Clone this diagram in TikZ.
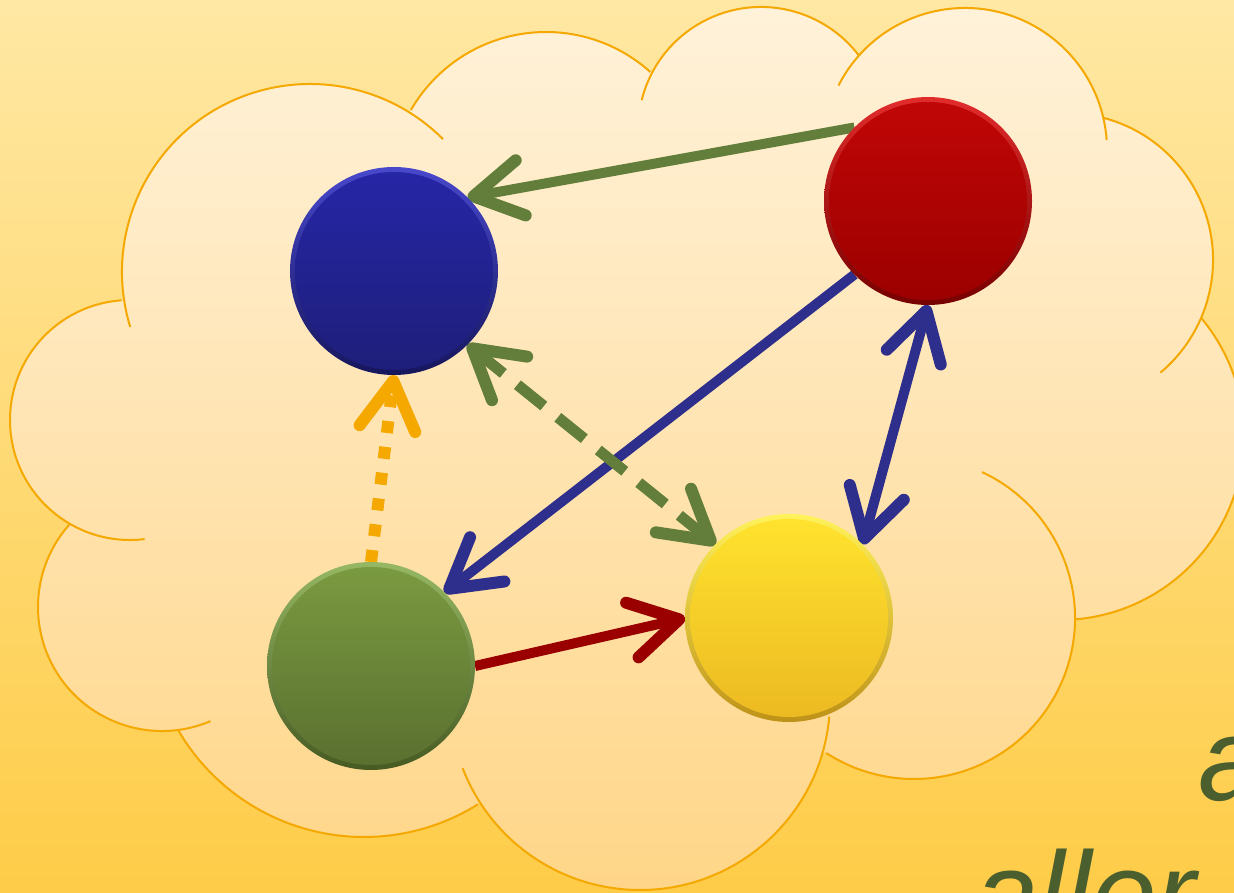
\documentclass[tikz,border=0pt]{standalone}
\usepackage{fontspec}
\newfontfamily\txtfont{Liberation Sans}
\usetikzlibrary{arrows.meta}
\definecolor{bgtop}{RGB}{255,232,164}
\definecolor{bgbot}{RGB}{254,204,72}
\definecolor{cloudtop}{RGB}{255,242,218}
\definecolor{cloudbot}{RGB}{255,214,136}
\definecolor{cloudline}{RGB}{245,168,0}
\definecolor{agreen}{RGB}{98,126,58}
\definecolor{ablue}{RGB}{46,46,140}
\definecolor{aorange}{RGB}{245,168,0}
\definecolor{ared}{RGB}{154,0,0}
\definecolor{txtcol}{RGB}{74,94,46}
% blue sphere
\definecolor{bluerimt}{RGB}{72,72,204}
\definecolor{bluerimb}{RGB}{22,22,92}
\definecolor{bluetop}{RGB}{38,38,166}
\definecolor{bluebot}{RGB}{30,30,122}
% red sphere
\definecolor{redrimt}{RGB}{226,44,44}
\definecolor{redrimb}{RGB}{118,0,0}
\definecolor{redtop}{RGB}{192,6,6}
\definecolor{redbot}{RGB}{156,0,0}
% green sphere
\definecolor{greenrimt}{RGB}{150,184,100}
\definecolor{greenrimb}{RGB}{70,90,34}
\definecolor{greentop}{RGB}{122,154,64}
\definecolor{greenbot}{RGB}{90,112,48}
% yellow sphere
\definecolor{yellowrimt}{RGB}{255,242,90}
\definecolor{yellowrimb}{RGB}{190,146,24}
\definecolor{yellowtop}{RGB}{255,226,46}
\definecolor{yellowbot}{RGB}{236,186,34}
\tikzset{barb/.tip={Straight Barb[length=48pt,width=56pt,line width=12pt,round]}}
\begin{document}
\begin{tikzpicture}[x=1pt,y=1pt,
  lobe/.style={draw=cloudline,line width=2pt},
  ball/.style={circle,minimum size=208pt,inner sep=0pt,outer sep=0pt},
  conn/.style={line width=10pt},
  txt/.style={anchor=base west,inner sep=0pt,text=txtcol,font=\txtfont\itshape\fontsize{118}{140}\selectfont}]
\useasboundingbox (0,0) rectangle (1234,892);
\clip (0,0) rectangle (1234,892);
% background
\shade[top color=bgtop,bottom color=bgbot] (0,0) rectangle (1234,892);
% cloud fill
\shade[top color=cloudtop,bottom color=cloudbot]
  (130,472) -- (162,285) -- (364,270) -- (640,192) -- (914,274) -- (1060,456)
  -- (1066,632) -- (965,742) -- (761,762) -- (546,704) -- (310,620) -- cycle
  (310,620) circle[radius=188]
  (546,704) circle[radius=156]
  (761,762) circle[radius=123]
  (965,742) circle[radius=142]
  (1066,632) circle[radius=147]
  (1060,456) circle[radius=184]
  (914,274) circle[radius=161]
  (640,192) circle[radius=190]
  (364,270) circle[radius=215]
  (162,285) circle[radius=124]
  (130,472) circle[radius=120];
% cloud outline
\draw[lobe] (310,620) ++(197:188) arc[start angle=197,end angle=45,radius=188];
\draw[lobe] (546,704) ++(150:156) arc[start angle=150,end angle=48,radius=156];
\draw[lobe] (761,762) ++(166:123) arc[start angle=166,end angle=37,radius=123];
\draw[lobe] (965,742) ++(153:142) arc[start angle=153,end angle=4,radius=142];
\draw[lobe] (1066,632) ++(75:147) arc[start angle=75,end angle=-50,radius=147];
\draw[lobe] (1060,456) ++(40:184) arc[start angle=40,end angle=-85,radius=184];
\draw[lobe] (914,274) ++(65:161) arc[start angle=65,end angle=-123,radius=161];
\draw[lobe] (640,192) ++(-5:190) arc[start angle=-5,end angle=-159,radius=190];
\draw[lobe] (364,270) ++(-58:215) arc[start angle=-58,end angle=-150,radius=215];
\draw[lobe] (162,285) ++(-67:124) arc[start angle=-67,end angle=-222,radius=124];
\draw[lobe] (130,472) ++(-83:120) arc[start angle=-83,end angle=-266,radius=120];
% node positions
\path (394,621) node[ball] (blue) {};
\path (928,691) node[ball] (red) {};
\path (371,226) node[ball] (green) {};
\path (789,274) node[ball] (yellow) {};
% connectors
\draw[conn,agreen,-{barb}] (red.135) -- (blue.45);
\draw[conn,ablue,-{barb}] (red.225) -- (green.45);
\draw[conn,ablue,{barb}-{barb}] (red.south) -- (yellow.45);
\draw[conn,line width=11pt,agreen,dash pattern=on 34pt off 18pt,{barb}-{barb}] (blue.-45) -- (yellow.135);
\draw[conn,line width=12pt,aorange,dash pattern=on 12pt off 14pt,-{barb}] (green.north) -- (blue.south);
\draw[conn,ared,-{barb}] (green.east) -- (yellow.west);
% spheres: bevel rim, then face
\node[ball,top color=bluerimt,bottom color=bluerimb] at (blue) {};
\shade[top color=bluetop,bottom color=bluebot] (blue.center) circle[radius=99];
\node[ball,top color=redrimt,bottom color=redrimb] at (red) {};
\shade[top color=redtop,bottom color=redbot] (red.center) circle[radius=99];
\node[ball,top color=greenrimt,bottom color=greenrimb] at (green) {};
\shade[top color=greentop,bottom color=greenbot] (green.center) circle[radius=99];
\node[ball,top color=yellowrimt,bottom color=yellowrimb] at (yellow) {};
\shade[top color=yellowtop,bottom color=yellowbot] (yellow.center) circle[radius=99];
% text
\node[txt] (t1) at (1198,92) {a};
\node[txt] (t2) at (973,-42) {aller T};
\end{tikzpicture}
\end{document}
